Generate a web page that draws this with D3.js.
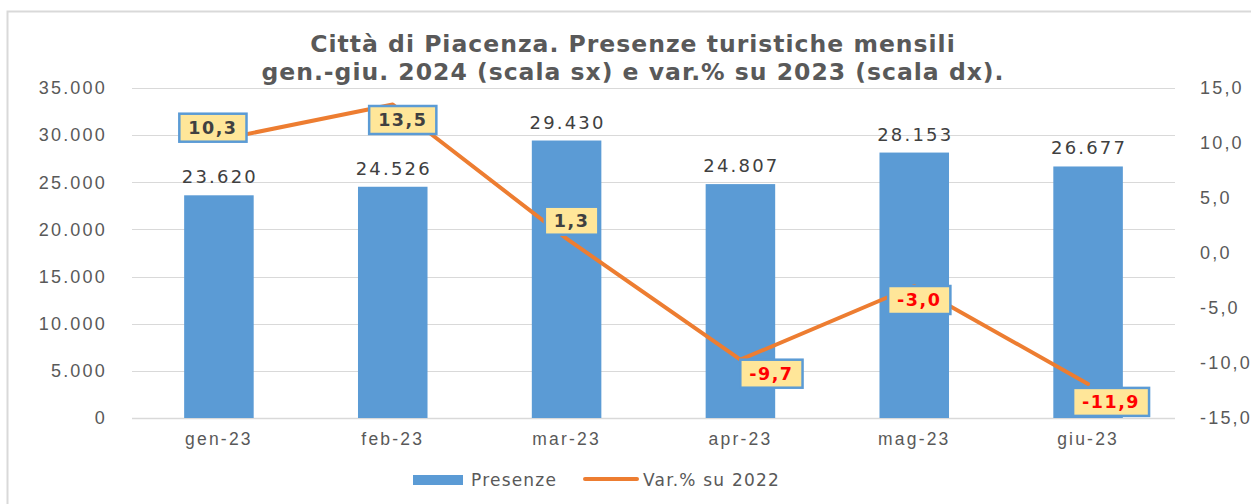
<!DOCTYPE html>
<html><head><meta charset="utf-8">
<script src="https://cdn.jsdelivr.net/npm/d3@7"></script>
<style>
html,body{margin:0;padding:0;background:#fff;overflow:hidden}
svg{display:block;font-family:"DejaVu Sans",Verdana,sans-serif}
</style></head>
<body><svg id="c" width="1251" height="504"></svg>
<script>
const categories = ["gen-23","feb-23","mar-23","apr-23","mag-23","giu-23"];
const presenze = [23620, 24526, 29430, 24807, 28153, 26677];
const variazione = [10.3, 13.5, 1.3, -9.7, -3.0, -11.9];
const leftTicks = [0, 5000, 10000, 15000, 20000, 25000, 30000, 35000];
const rightTicks = [-15, -10, -5, 0, 5, 10, 15];
const titleLines = ["Città di Piacenza. Presenze turistiche mensili",
                    "gen.-giu. 2024 (scala sx) e var.% su 2023 (scala dx)."];
const seriesNames = ["Presenze", "Var.% su 2022"];

const svg = d3.select("#c");
const W = 1251, H = 504;
const plot = {l: 132, r: 1175, t: 88, b: 418};

// frame
svg.append("rect").attr("x", 7.5).attr("y", 11.5).attr("width", W + 20).attr("height", H + 20)
  .attr("fill", "#fff").attr("stroke", "#D9D9D9").attr("stroke-width", 2);

const x = d3.scaleBand().domain(categories).range([plot.l, plot.r]).paddingInner(0.6).paddingOuter(0.3);
const xc = d3.scaleBand().domain(categories).range([plot.l, plot.r]);
const yL = d3.scaleLinear().domain([0, 35000]).range([plot.b, plot.t]);
const yR = d3.scaleLinear().domain([-15, 15]).range([plot.b, plot.t]);

const fmtL = v => d3.format(",")(v).replace(/,/g, ".");
const fmtR = v => d3.format(".1f")(v).replace(".", ",").replace("\u2212", "-");

const axisFont = sel => sel.attr("fill", "#595959").attr("font-size", 18).attr("letter-spacing", 2.2);

// gridlines
svg.append("g").selectAll("line").data(leftTicks).join("line")
  .attr("x1", plot.l).attr("x2", plot.r)
  .attr("y1", d => Math.round(yL(d)) + 0.5).attr("y2", d => Math.round(yL(d)) + 0.5)
  .attr("stroke", "#D9D9D9").attr("stroke-width", d => d === 0 ? 1.5 : 1.2);

// left axis
const axL = d3.axisLeft(yL).tickValues(leftTicks).tickFormat(fmtL).tickSize(0).tickPadding(25);
const gL = svg.append("g").attr("transform", `translate(${plot.l},0)`).call(axL);
gL.select(".domain").remove();
gL.selectAll("text").call(axisFont);

// right axis
const axR = d3.axisRight(yR).tickValues(rightTicks).tickFormat(fmtR).tickSize(0).tickPadding(25);
const gR = svg.append("g").attr("transform", `translate(${plot.r},0)`).call(axR);
gR.select(".domain").remove();
gR.selectAll("text").call(axisFont);

// bottom axis
const axB = d3.axisBottom(xc).tickSize(0).tickPadding(15);
const gB = svg.append("g").attr("transform", `translate(0,${plot.b})`).call(axB);
gB.select(".domain").remove();
gB.selectAll("text").call(axisFont).attr("font-size", 17.5);

// bars
svg.append("g").selectAll("rect").data(presenze).join("rect")
  .attr("x", (d, i) => x(categories[i])).attr("width", x.bandwidth())
  .attr("y", d => yL(d)).attr("height", d => yL(0) - yL(d))
  .attr("fill", "#5B9BD5");

// bar labels
svg.append("g").selectAll("text").data(presenze).join("text")
  .attr("x", (d, i) => xc(categories[i]) + xc.bandwidth() / 2 + 1)
  .attr("y", d => yL(d) - 12)
  .attr("text-anchor", "middle")
  .call(axisFont).attr("fill", "#404040")
  .text(fmtL);

// line
const px = i => xc(categories[i]) + xc.bandwidth() / 2;
const line = d3.line().x((d, i) => px(i)).y(d => yR(d));
svg.append("path").datum(variazione).attr("d", line)
  .attr("fill", "none").attr("stroke", "#ED7D31").attr("stroke-width", 4)
  .attr("stroke-linecap", "round").attr("stroke-linejoin", "round");

// line labels (offset relative to points)
const labelOffsets = [[-6, -12], [10, 15.5], [5, -18], [31, 14], [5, 14], [23, 18]];
const lg = svg.append("g");
variazione.forEach((v, i) => {
  const cx = px(i) + labelOffsets[i][0], cy = yR(v) + labelOffsets[i][1];
  const t = lg.append("text").attr("x", cx).attr("y", cy)
    .attr("text-anchor", "middle").attr("dominant-baseline", "central")
    .attr("fill", v < 0 ? "#FF0000" : "#404040")
    .attr("font-size", 17.5).attr("font-weight", "bold").attr("letter-spacing", 1.5)
    .text(fmtR(v));
  const bb = t.node().getBBox();
  lg.insert("rect", "text").attr("x", cx - bb.width / 2 - 9).attr("y", cy - 14).attr("width", bb.width + 18).attr("height", 28)
    .attr("fill", "#FFE699").attr("stroke", "#5B9BD5").attr("stroke-width", 2.5);
});

// title
svg.append("g").selectAll("text").data(titleLines).join("text")
  .attr("x", 633).attr("y", (d, i) => 52 + i * 28)
  .attr("text-anchor", "middle").attr("fill", "#595959")
  .attr("font-size", 23.5).attr("font-weight", "bold").attr("letter-spacing", 1)
  .text(d => d);

// legend
const leg = svg.append("g");
leg.append("rect").attr("x", 413).attr("y", 475).attr("width", 50).attr("height", 10).attr("fill", "#5B9BD5");
leg.append("text").attr("x", 471).attr("y", 480).attr("dominant-baseline", "central")
  .attr("fill", "#595959").attr("font-size", 17).attr("letter-spacing", 1.2).text(seriesNames[0]);
leg.append("line").attr("x1", 585).attr("x2", 637).attr("y1", 479).attr("y2", 479)
  .attr("stroke", "#ED7D31").attr("stroke-width", 4).attr("stroke-linecap", "round");
leg.append("text").attr("x", 643).attr("y", 480).attr("dominant-baseline", "central")
  .attr("fill", "#595959").attr("font-size", 17).attr("letter-spacing", 1.2).text(seriesNames[1]);
</script></body></html>
